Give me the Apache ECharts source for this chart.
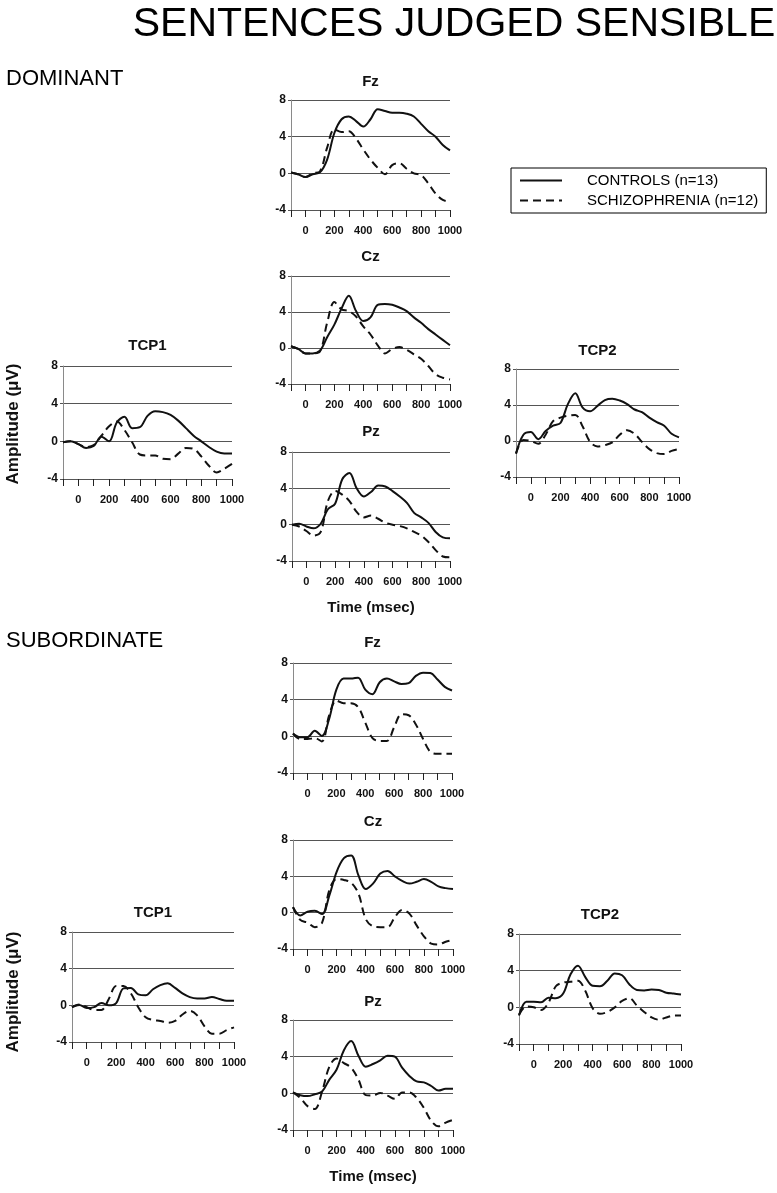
<!DOCTYPE html>
<html><head><meta charset="utf-8">
<script src="https://cdn.jsdelivr.net/npm/echarts@6/dist/echarts.min.js"></script>
<style>html,body{margin:0;padding:0;background:#fff}#c{width:777px;height:1193px}</style>
</head><body><div id="c"></div>
<script>
// ---------- data ----------
const times = [-100,-50,0,50,100,150,200,250,300,350,400,450,500,550,600,650,700,750,800,850,900,950,1000];
const xTickLabels = [0,200,400,600,800,1000];
const yTicks = [-4,0,4,8];
const groupNames = ['CONTROLS (n=13)','SCHIZOPHRENIA (n=12)'];
const sectionNames = ['DOMINANT','SUBORDINATE'];
const chartTitle = 'SENTENCES JUDGED SENSIBLE';
const yAxisName = 'Amplitude (\u03bcV)';
const xAxisName = 'Time (msec)';

// DOMINANT
const domFzControls = [0.1,-0.1,-0.4,-0.1,0.1,1.5,4.4,5.9,6.2,5.7,5.1,5.9,7.0,6.8,6.6,6.6,6.5,6.2,5.4,4.6,4.0,3.1,2.5];
const domFzSchizo   = [0.1,-0.1,-0.4,0.0,0.2,2.8,4.8,4.5,4.6,3.8,2.6,1.5,0.6,-0.1,0.9,1.1,0.5,0.0,-0.2,-1.1,-2.2,-2.9,-3.1];
const domCzControls = [0.2,-0.1,-0.6,-0.6,-0.3,1.2,2.6,4.4,5.8,4.1,3.0,3.4,4.8,4.9,4.8,4.5,4.1,3.4,2.8,2.1,1.5,0.9,0.3];
const domCzSchizo   = [0.2,-0.1,-0.6,-0.6,-0.4,2.8,5.1,4.3,4.1,3.5,2.4,1.5,0.3,-0.6,-0.1,0.1,-0.2,-0.7,-1.2,-2.0,-2.9,-3.3,-3.5];
const domPzControls = [0.0,0.1,-0.2,-0.4,0.1,1.7,2.3,5.0,5.7,4.0,3.1,3.6,4.3,4.2,3.7,3.1,2.4,1.3,0.8,0.2,-0.8,-1.4,-1.5];
const domPzSchizo   = [0.0,-0.2,-0.7,-1.2,-0.8,2.6,3.7,3.3,2.6,1.4,0.8,1.0,0.65,0.2,0.0,-0.15,-0.4,-0.8,-1.2,-1.9,-2.8,-3.5,-3.6];
const domT1Controls = [-0.1,0.0,-0.3,-0.7,-0.5,0.5,0.0,2.0,2.6,1.4,1.5,2.7,3.2,3.1,2.8,2.2,1.4,0.6,0.0,-0.6,-1.1,-1.3,-1.3];
const domT1Schizo   = [-0.1,0.0,-0.3,-0.6,-0.4,0.6,1.6,2.1,1.2,-0.1,-1.4,-1.5,-1.5,-1.85,-1.9,-1.3,-0.7,-0.8,-1.6,-2.6,-3.3,-2.9,-2.4];
const domT2Controls = [-1.4,0.7,1.0,0.2,1.1,1.7,2.0,4.1,5.3,3.7,3.3,3.9,4.55,4.7,4.5,4.1,3.5,3.2,2.6,2.1,1.7,0.8,0.4];
const domT2Schizo   = [-1.4,0.1,0.0,-0.3,0.7,2.2,2.6,2.8,2.9,1.6,-0.1,-0.6,-0.45,-0.15,0.7,1.2,0.8,-0.1,-0.9,-1.35,-1.45,-1.1,-0.9];
// SUBORDINATE
const subFzControls = [0.3,-0.1,-0.1,0.6,0.05,1.9,5.1,6.3,6.3,6.4,5.1,4.6,5.9,6.3,6.0,5.7,5.8,6.6,6.95,6.9,6.2,5.4,5.0];
const subFzSchizo   = [0.3,-0.3,-0.3,-0.2,-0.55,2.3,3.9,3.6,3.6,3.2,1.5,-0.2,-0.5,-0.5,1.0,2.4,2.3,1.3,-0.3,-1.7,-1.9,-1.9,-1.9];
const subCzControls = [0.6,-0.3,0.1,0.2,-0.15,1.9,4.5,6.0,6.3,4.1,2.6,3.2,4.3,4.6,4.0,3.5,3.2,3.4,3.7,3.4,2.9,2.7,2.6];
const subCzSchizo   = [0.6,-0.8,-1.1,-1.6,-1.1,2.5,3.7,3.6,3.3,2.1,-0.7,-1.5,-1.6,-1.6,-0.5,0.3,-0.1,-1.4,-2.6,-3.4,-3.5,-3.2,-3.0];
const subPzControls = [0.1,-0.2,-0.3,-0.1,0.2,1.5,2.6,4.7,5.7,4.1,2.9,3.2,3.6,4.1,4.0,2.8,1.9,1.3,1.2,0.8,0.3,0.5,0.5];
const subPzSchizo   = [0.1,-0.5,-1.4,-1.7,0.2,2.9,3.8,3.3,2.8,1.5,-0.2,-0.25,0.05,-0.25,-0.6,0.1,0.1,-0.5,-1.6,-3.0,-3.6,-3.2,-2.9];
const subT1Controls = [-0.2,0.05,-0.3,-0.2,0.25,0.0,0.25,1.85,1.9,1.2,1.1,1.75,2.2,2.4,1.9,1.3,0.9,0.75,0.75,0.9,0.7,0.5,0.5];
const subT1Schizo   = [-0.2,0.1,-0.2,-0.5,-0.5,0.7,2.1,2.1,1.3,-0.2,-1.3,-1.6,-1.7,-1.9,-1.7,-1.0,-0.6,-1.1,-2.3,-3.1,-3.1,-2.7,-2.4];
const subT2Controls = [-0.9,0.6,0.6,0.55,1.05,1.0,1.5,3.6,4.55,3.3,2.35,2.3,2.9,3.7,3.5,2.5,1.9,1.85,1.95,1.9,1.6,1.5,1.4];
const subT2Schizo   = [-0.8,0.1,0.0,-0.3,0.5,2.3,2.7,2.8,2.9,1.8,-0.1,-0.7,-0.5,0.0,0.7,1.0,0.2,-0.5,-1.1,-1.35,-1.1,-0.9,-0.9];

// ---------- layout (pixels) ----------
const FONT = "'Liberation Sans', Arial, Helvetica, sans-serif";
const panels = [
  {site:'Fz',   ctl:domFzControls, sz:domFzSchizo, L:291, R:450, T:100, B:210, ty:82},
  {site:'Cz',   ctl:domCzControls, sz:domCzSchizo, L:291, R:450, T:276, B:384, ty:257},
  {site:'Pz',   ctl:domPzControls, sz:domPzSchizo, L:292, R:450, T:452, B:561, ty:432, time:608},
  {site:'TCP1', ctl:domT1Controls, sz:domT1Schizo, L:63,  R:232, T:366, B:479, ty:346, amp:424},
  {site:'TCP2', ctl:domT2Controls, sz:domT2Schizo, L:516, R:679, T:369, B:477, ty:351},
  {site:'Fz',   ctl:subFzControls, sz:subFzSchizo, L:293, R:452, T:663, B:773, ty:643},
  {site:'Cz',   ctl:subCzControls, sz:subCzSchizo, L:293, R:453, T:840, B:949, ty:822},
  {site:'Pz',   ctl:subPzControls, sz:subPzSchizo, L:293, R:453, T:1020, B:1130, ty:1002, time:1177},
  {site:'TCP1', ctl:subT1Controls, sz:subT1Schizo, L:72,  R:234, T:932, B:1042, ty:913, amp:992},
  {site:'TCP2', ctl:subT2Controls, sz:subT2Schizo, L:519, R:681, T:934, B:1044, ty:915}
];

const grid = [], xAxis = [], yAxis = [], series = [], graphic = [];
panels.forEach((p, i) => {
  grid.push({left:p.L, top:p.T, width:p.R-p.L, height:p.B-p.T, containLabel:false});
  xAxis.push({
    type:'value', gridIndex:i, min:-100, max:1000, interval:100,
    axisLine:{show:false, onZero:false},
    axisTick:{show:true, length:7, lineStyle:{color:'#222', width:1}},
    axisLabel:{margin:15, fontSize:11, fontWeight:'bold', color:'#111', fontFamily:FONT,
      formatter:v => (xTickLabels.indexOf(v) >= 0 ? String(v) : '')},
    splitLine:{show:false}
  });
  yAxis.push({
    type:'value', gridIndex:i, min:yTicks[0], max:yTicks[yTicks.length-1], interval:4,
    axisLine:{show:true, onZero:false, lineStyle:{color:'#8a8a8a', width:1}},
    axisTick:{show:true, length:3, lineStyle:{color:'#555'}},
    axisLabel:{margin:5, fontSize:12, fontWeight:'bold', color:'#111', fontFamily:FONT},
    splitLine:{show:true, lineStyle:{color:'#555', width:1}}
  });
  series.push({
    name:groupNames[0], type:'line', xAxisIndex:i, yAxisIndex:i, smooth:0.35,
    symbol:'none', data:times.map((t,k)=>[t,p.ctl[k]]),
    lineStyle:{color:'#111', width:2, type:'solid'}, itemStyle:{color:'#111'}, z:3
  });
  series.push({
    name:groupNames[1], type:'line', xAxisIndex:i, yAxisIndex:i, smooth:0.35,
    symbol:'none', data:times.map((t,k)=>[t,p.sz[k]]),
    lineStyle:{color:'#111', width:2, type:[8,5]}, itemStyle:{color:'#111'}, z:2
  });
  graphic.push({type:'text', x:(p.L+p.R)/2, y:p.ty,
    style:{text:p.site, textAlign:'center', textVerticalAlign:'middle',
      font:'bold 15px ' + FONT, fill:'#111'}});
  if (p.time) graphic.push({type:'text', x:(p.L+p.R)/2, y:p.time,
    style:{text:xAxisName, textAlign:'center', textVerticalAlign:'middle',
      font:'bold 15px ' + FONT, fill:'#111'}});
  if (p.amp) graphic.push({type:'text', x:13, y:p.amp, rotation:Math.PI/2,
    style:{text:yAxisName, textAlign:'center', textVerticalAlign:'middle',
      font:'bold 17px ' + FONT, fill:'#111'}});
});
graphic.push({type:'text', x:454, y:25,
  style:{text:chartTitle, textAlign:'center', textVerticalAlign:'middle', font:'41px ' + FONT, fill:'#000'}});
graphic.push({type:'text', x:6, y:79,
  style:{text:sectionNames[0], textAlign:'left', textVerticalAlign:'middle', font:'22px ' + FONT, fill:'#000'}});
graphic.push({type:'text', x:6, y:641,
  style:{text:sectionNames[1], textAlign:'left', textVerticalAlign:'middle', font:'22px ' + FONT, fill:'#000'}});

const chart = echarts.init(document.getElementById('c'), null, {renderer:'canvas'});
chart.setOption({
  backgroundColor:'#fff',
  animation:false,
  grid, xAxis, yAxis, series, graphic,
  legend:{
    data:groupNames, orient:'vertical', left:511, top:168,
    padding:[5,8,5,8], itemGap:5, itemWidth:42, itemHeight:14,
    borderColor:'#000', borderWidth:1, selectedMode:false,
    itemStyle:{color:'rgba(0,0,0,0)', borderWidth:0, opacity:0},
    textStyle:{fontSize:15, fontFamily:FONT, color:'#000', padding:[0,0,0,20]}
  }
});
</script></body></html>
